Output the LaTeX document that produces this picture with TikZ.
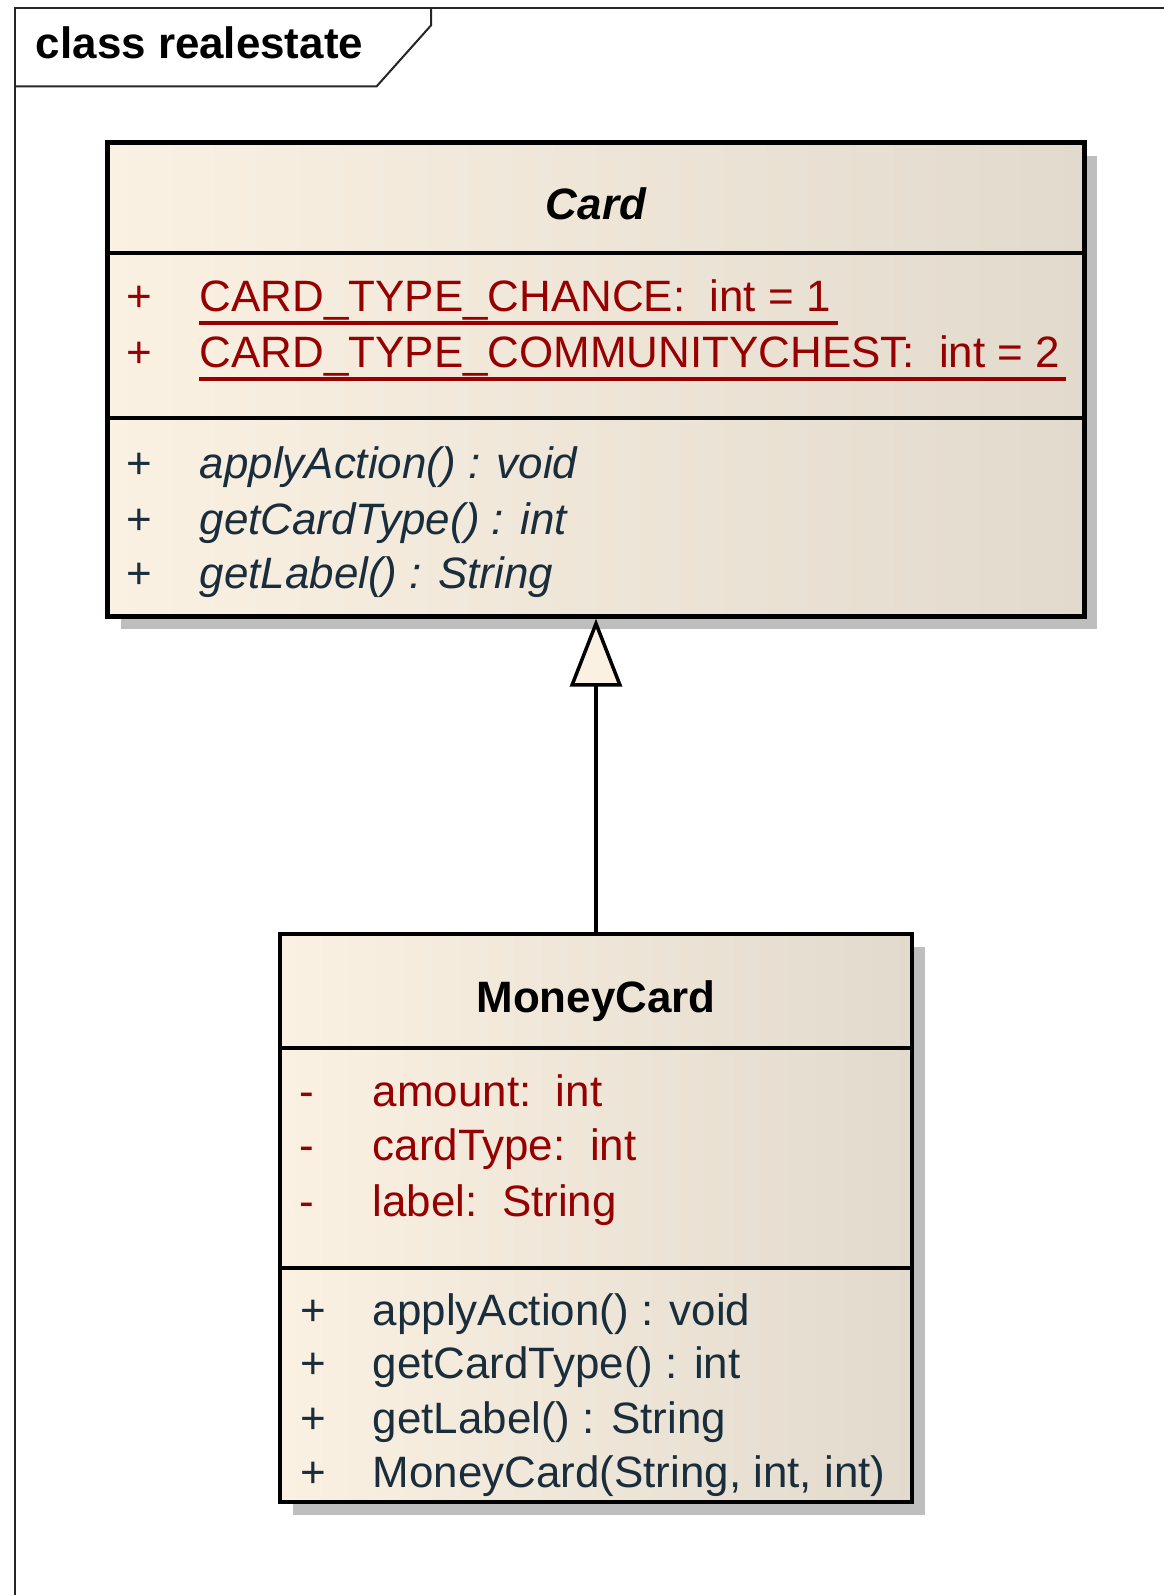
\documentclass[tikz,border=0pt]{standalone}
\usepackage{fontspec}
\setmainfont{Liberation Sans}
\usetikzlibrary{arrows.meta,shadows}

\definecolor{boxleft}{RGB}{250,241,227}
\definecolor{boxright}{RGB}{226,218,204}
\definecolor{attrred}{RGB}{150,0,0}
\definecolor{opdark}{RGB}{25,45,60}
\definecolor{shadowgray}{RGB}{190,190,190}

\tikzset{
  classbox/.style={draw, line width=0.09cm, left color=boxleft, right color=boxright,
    drop shadow={shadow xshift=0.26cm, shadow yshift=-0.26cm, fill=shadowgray, opacity=1}},
  member/.style={anchor=base west, inner sep=0pt, font=\fontsize{25}{30}\selectfont},
  divider/.style={line width=0.08cm},
  ulline/.style={attrred, line width=0.08cm},
}

\begin{document}
\begin{tikzpicture}[x=0.02cm,y=-0.02cm]
        \useasboundingbox (0,0) rectangle (1163,1595);

        \draw[line width=0.04cm, black!85] (15.3,1650) -- (15.3,8.1) -- (1200,8.1);
        \draw[line width=0.04cm, black!85] (15.3,86.5) -- (376.5,86.5) -- (431,25.4) -- (431,8.1);
        \node[member, font=\fontsize{25}{30}\selectfont\bfseries] (frametitle) at (35.6,59) {class realestate};

        \node[classbox, minimum width=19.54cm, minimum height=9.48cm] (card) at (596,379.5) {};
        \node[classbox, minimum width=12.64cm, minimum height=11.36cm] (money) at (596,1218) {};

        \draw[divider] (card.west |- 0,253.4) -- (card.east |- 0,253.4);
        \draw[divider] (card.west |- 0,418.2) -- (card.east |- 0,418.2);
        \draw[divider] (money.west |- 0,1048) -- (money.east |- 0,1048);
        \draw[divider] (money.west |- 0,1267.8) -- (money.east |- 0,1267.8);

        \node[member, anchor=base, font=\fontsize{25}{30}\selectfont\bfseries\itshape] (cardtitle) at (596,219) {Card};
        \node[member, anchor=base, font=\fontsize{25}{30}\selectfont\bfseries] (moneytitle) at (596,1012) {MoneyCard};

        \begin{scope}[every node/.style={member, attrred}]
          \node (cv1) at (126,311) {+};
          \node (ca1) at (199.4,311) {CARD\_TYPE\_CHANCE:\ \ int = 1};
          \node (cv2) at (126,367) {+};
          \node (ca2) at (199.4,367) {CARD\_TYPE\_COMMUNITYCHEST:\ \ int = 2};

          \node (mv1) at (299,1106) {-};
          \node (ma1) at (372.4,1106) {amount:\ \ int};
          \node (mv2) at (299,1160) {-};
          \node (ma2) at (372.4,1160) {cardType:\ \ int};
          \node (mv3) at (299,1216) {-};
          \node (ma3) at (372.4,1216) {label:\ \ String};
        \end{scope}

        \draw[ulline] ([yshift=-0.24cm]ca1.base west) -- ([yshift=-0.24cm,xshift=0.14cm]ca1.base east);
        \draw[ulline] ([yshift=-0.24cm]ca2.base west) -- ([yshift=-0.24cm,xshift=0.12cm]ca2.base east);

        \begin{scope}[every node/.style={member, opdark}]
          \node (co1v) at (126,478) {+};
          \node[font=\fontsize{25}{30}\selectfont\itshape] (co1) at (199.4,478) {applyAction() : void};
          \node (co2v) at (126,534) {+};
          \node[font=\fontsize{25}{30}\selectfont\itshape] (co2) at (199.4,534) {getCardType() : int};
          \node (co3v) at (126,588) {+};
          \node[font=\fontsize{25}{30}\selectfont\itshape] (co3) at (199.4,588) {getLabel() : String};

          \node (mo1v) at (300,1325) {+};
          \node (mo1) at (372.4,1325) {applyAction() : void};
          \node (mo2v) at (300,1378) {+};
          \node (mo2) at (372.4,1378) {getCardType() : int};
          \node (mo3v) at (300,1433) {+};
          \node (mo3) at (372.4,1433) {getLabel() : String};
          \node (mo4v) at (300,1487) {+};
          \node (mo4) at (372.4,1487) {MoneyCard(String, int, int)};
        \end{scope}

        \draw[line width=0.07cm, -{Triangle[open, fill=boxleft, length=1.36cm, width=1.04cm]}] (money) -- (card);

      \end{tikzpicture}
\end{document}
